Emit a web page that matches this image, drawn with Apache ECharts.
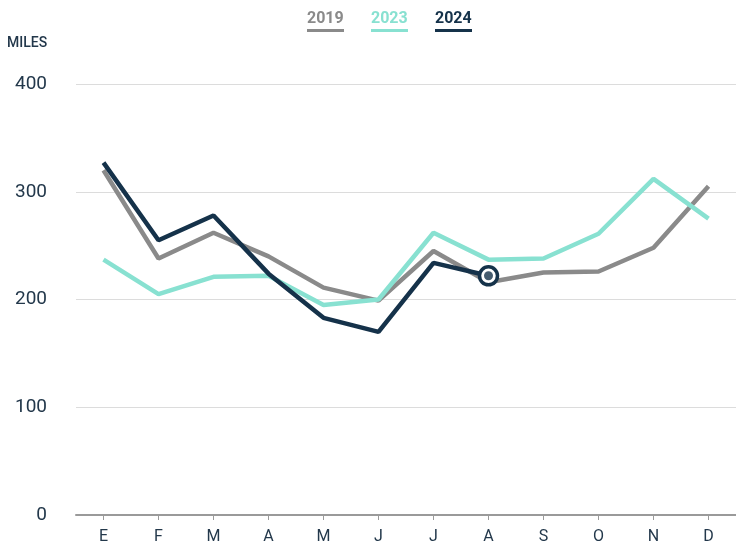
<!DOCTYPE html>
<html>
<head>
<meta charset="utf-8">
<script src="https://cdn.jsdelivr.net/npm/echarts@6/dist/echarts.min.js"></script>
<style>
  html, body { margin: 0; padding: 0; background: #fff; }
  #chart { width: 736px; height: 548px; }
</style>
</head>
<body>
<div id="chart"></div>
<script>
// months (Spanish initials)
const months = ["E", "F", "M", "A", "M", "J", "J", "A", "S", "O", "N", "D"];
const yTicks = [0, 100, 200, 300, 400];
const miles2019 = [320, 238, 262, 240, 211, 199, 245, 216, 225, 226, 248, 305];
const miles2023 = [237, 205, 221, 222, 195, 200, 262, 237, 238, 261, 312, 275];
const miles2024 = [327, 255, 278, 224, 183, 170, 234, 222];

const colors = { "2019": "#8a8a8a", "2023": "#88e1d1", "2024": "#15324a" };
const navyText = "#23384b";

// last point of 2024 gets the ring marker
const lastIdx = miles2024.length - 1;
const data2024 = miles2024.map((v, i) => i === lastIdx ? {
  value: v,
  symbol: "circle",
  symbolSize: 18,
  itemStyle: { color: "#fff", borderColor: colors["2024"], borderWidth: 3.5 }
} : v);

const chart = echarts.init(document.getElementById("chart"));
chart.setOption({
  animation: false,
  textStyle: { fontFamily: "Roboto" },
  legend: {
    top: 6,
    left: 297,
    itemWidth: 0,
    itemHeight: 0,
    itemGap: 22,
    icon: "none",
    selectedMode: false,
    data: ["2019", "2023", "2024"],
    formatter(name) {
      const k = "y" + name;
      return "{" + k + "|" + name + "}\n{u" + k + "|}";
    },
    textStyle: {
      rich: {
        y2019: { color: colors["2019"], fontSize: 16, fontWeight: "bold", fontFamily: "Roboto", lineHeight: 20 },
        y2023: { color: colors["2023"], fontSize: 16, fontWeight: "bold", fontFamily: "Roboto", lineHeight: 20 },
        y2024: { color: colors["2024"], fontSize: 16, fontWeight: "bold", fontFamily: "Roboto", lineHeight: 20 },
        uy2019: { backgroundColor: colors["2019"], width: 37, height: 3, lineHeight: 3 },
        uy2023: { backgroundColor: colors["2023"], width: 37, height: 3, lineHeight: 3 },
        uy2024: { backgroundColor: colors["2024"], width: 37, height: 3, lineHeight: 3 }
      }
    }
  },
  grid: { left: 76, right: 0, top: 84, bottom: 33 },
  xAxis: {
    type: "category",
    data: months,
    boundaryGap: true,
    axisLine: { show: true, lineStyle: { color: "#9a9a9a", width: 2 } },
    axisTick: { show: true, alignWithLabel: true, length: 5, lineStyle: { color: "#9a9a9a" } },
    axisLabel: { color: navyText, fontSize: 16, margin: 14 }
  },
  yAxis: {
    type: "value",
    min: yTicks[0],
    max: yTicks[yTicks.length - 1],
    interval: 100,
    name: "MILES",
    nameLocation: "end",
    nameGap: 34,
    nameTextStyle: { color: navyText, fontSize: 14, fontWeight: 500, align: "left", padding: [0, 0, 0, -69] },
    axisLine: { show: false },
    axisTick: { show: false },
    axisLabel: { color: navyText, fontSize: 19, margin: 29 },
    splitLine: { lineStyle: { color: "#dcdcdc", width: 1 } }
  },
  series: [
    {
      name: "2019", type: "line", data: miles2019, symbol: "none",
      lineStyle: { color: colors["2019"], width: 4.5 }, itemStyle: { color: colors["2019"] }
    },
    {
      name: "2023", type: "line", data: miles2023, symbol: "none",
      lineStyle: { color: colors["2023"], width: 4.5 }, itemStyle: { color: colors["2023"] }
    },
    {
      name: "2024", type: "line", data: data2024, symbol: "none", showSymbol: true,
      lineStyle: { color: colors["2024"], width: 4.5 }, itemStyle: { color: colors["2024"] },
      z: 3
    },
    {
      // inner dot of the end marker
      name: "2024", type: "scatter", data: [[lastIdx, miles2024[lastIdx]]],
      symbolSize: 9, itemStyle: { color: colors["2024"] }, z: 4, silent: true
    }
  ]
});
</script>
</body>
</html>
